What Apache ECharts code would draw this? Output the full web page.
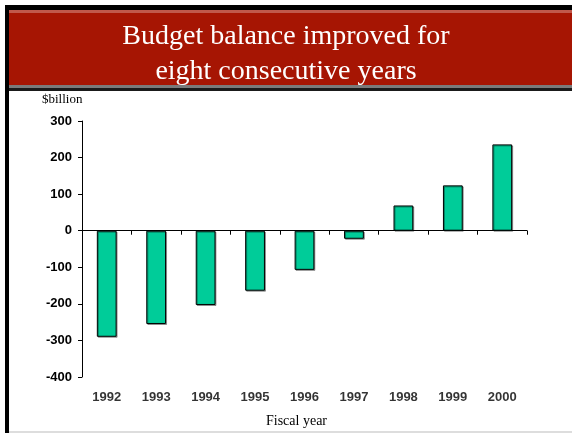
<!DOCTYPE html>
<html>
<head>
<meta charset="utf-8">
<script src="https://cdn.jsdelivr.net/npm/echarts@6/dist/echarts.min.js"></script>
<style>
html,body{margin:0;padding:0;background:#fff;}
#c{width:572px;height:433px;}
</style>
</head>
<body>
<div id="c"></div>
<script>
var categories = ['1992','1993','1994','1995','1996','1997','1998','1999','2000'];
var balance = [-290, -255, -203, -164, -107, -22, 69, 124, 236];
var yTicks = [-400, -300, -200, -100, 0, 100, 200, 300];
var titleLines = ['Budget balance improved for', 'eight consecutive years'];

var chart = echarts.init(document.getElementById('c'), null, {renderer:'canvas'});
chart.setOption({
  animation:false,
  backgroundColor:'#ffffff',
  graphic:[
    {type:'rect', shape:{x:5,y:5,width:567,height:5}, style:{fill:'#000'}},
    {type:'rect', shape:{x:5,y:5,width:4,height:428}, style:{fill:'#000'}},
    {type:'rect', shape:{x:9,y:10,width:563,height:76}, style:{fill:'#a61503'}},
    {type:'rect', shape:{x:9,y:10,width:563,height:3}, style:{fill:'#c0584b'}},
    {type:'rect', shape:{x:9,y:85,width:563,height:3}, style:{fill:'#7a7a7a'}},
    {type:'rect', shape:{x:9,y:88,width:563,height:3}, style:{fill:'#1a1a1a'}},
    {type:'rect', shape:{x:9,y:431,width:563,height:2}, style:{fill:'#dddddd'}},
    {type:'text', left:'center', top:19, style:{text:titleLines.join('\n'), fill:'#ffffff', font:'28px "Liberation Serif"', textAlign:'center', lineHeight:35}},
    {type:'text', left:42, top:93, style:{text:'$billion', fill:'#000', font:'13px "Liberation Serif"'}},
    {type:'text', left:266, top:414, style:{text:'Fiscal year', fill:'#000', font:'14px "Liberation Serif"'}}
  ],
  grid:{left:82, right:45, top:121, bottom:56, containLabel:false},
  xAxis:{
    type:'category', data:categories, position:'bottom',
    axisLine:{onZero:true, lineStyle:{color:'#000', width:1}},
    axisTick:{show:true, inside:false, length:4, lineStyle:{color:'#000'}},
    axisLabel:{show:false}
  },
  yAxis:{
    type:'value', min:-400, max:300, interval:100,
    axisLine:{show:true, lineStyle:{color:'#000', width:1}},
    axisTick:{show:true, length:4, lineStyle:{color:'#000'}},
    splitLine:{show:false},
    axisLabel:{color:'#000', fontFamily:'Liberation Sans', fontWeight:'bold', fontSize:13, margin:10,
      formatter:function(v){return yTicks.indexOf(v)>=0 ? String(v) : '';}}
  },
  series:[
    {type:'bar', data:balance, barWidth:'40%',
      itemStyle:{color:'#00cc99', borderColor:'#000', borderWidth:1, shadowColor:'rgba(0,0,0,0.35)', shadowOffsetX:1, shadowOffsetY:1}},
    {type:'scatter', data:categories.map(function(c){return [c,-400];}), symbolSize:0,
      label:{show:true, position:'bottom', distance:14, formatter:function(p){return p.name;}, color:'#000', fontFamily:'Liberation Sans', fontWeight:'bold', fontSize:13}}
  ]
});
</script>
</body>
</html>
